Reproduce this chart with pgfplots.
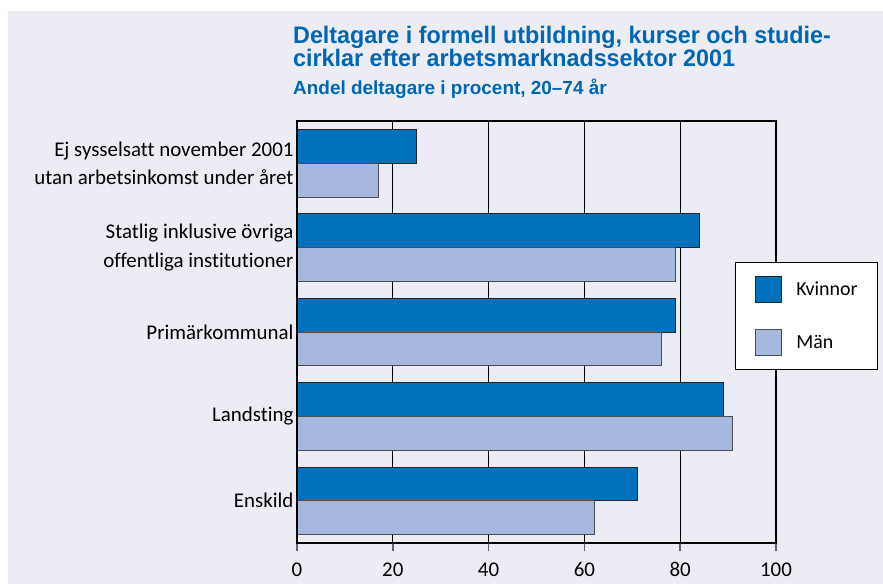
\documentclass[border=0pt]{standalone}
\usepackage{fontspec}
\setmainfont{Carlito}[Ligatures=CommonOff]
\newfontfamily\titlefont[FakeStretch=0.975]{Liberation Sans}
\newfontfamily\subtitlefont{Liberation Sans}
\usepackage{pgfplots}
\pgfplotsset{compat=1.18}

\definecolor{bgpanel}{HTML}{ECECF4}
\definecolor{titleblue}{HTML}{0066B3}
\definecolor{kvinnor}{HTML}{0071BA}
\definecolor{man}{HTML}{A6B8DE}

\pgfplotsset{squarelegend/.style={
    legend image code/.code={\draw[##1] (0bp,-13bp) rectangle (26bp,13bp);}}}

\begin{document}
\begin{tikzpicture}
% page and panel
\fill[white] (0,0) rectangle (883bp,584bp);
\fill[bgpanel] (8bp,0) rectangle (883bp,573bp);

\node[anchor=base west, inner sep=0, text=titleblue, font=\titlefont\bfseries\fontsize{24}{24}\selectfont]
  at (293bp,540bp) {Deltagare i formell utbildning, kurser och studie-};
\node[anchor=base west, inner sep=0, text=titleblue, font=\titlefont\bfseries\fontsize{24}{24}\selectfont]
  at (293bp,517bp) {cirklar efter arbetsmarknadssektor 2001};
\node[anchor=base west, inner sep=0, text=titleblue, font=\subtitlefont\bfseries\fontsize{19}{19}\selectfont]
  at (293bp,489bp) {Andel deltagare i procent, 20–74 år};

\begin{axis}[
    at={(297bp,41bp)}, anchor=south west,
    scale only axis, width=479bp, height=422bp,
    xmin=0, xmax=100, ymin=-0.5, ymax=4.5,
    y dir=reverse,
    bar width=0.4,
    xtick={0,20,40,60,80,100},
    ytick={0,1,2,3,4},
    yticklabels={{Ej sysselsatt november 2001\\utan arbetsinkomst under året},
                 {Statlig inklusive övriga\\offentliga institutioner},
                 Primärkommunal, Landsting, Enskild},
    yticklabel style={align=right, font=\fontsize{21}{28.5}\selectfont},
    xticklabel style={font=\fontsize{21}{21}\selectfont},
    /pgf/number format/assume math mode=true,
    xtick pos=bottom, xtick align=outside,
    major tick length=8bp,
    xtick style={draw=black!60, line width=1.5bp},
    ytick style={draw=none},
    xmajorgrids,
    grid style={black, line width=1.1bp},
    axis line style={black, line width=1.1bp},
    axis background/.style={fill=bgpanel},
    xticklabel shift=8bp, yticklabel shift=0bp,
    legend style={at={(rel axis cs:0.914,0.666)}, anchor=north west,
        fill=white, draw=black, line width=1.1bp,
        inner xsep=20bp, inner ysep=13bp,
        row sep=27bp, /tikz/column sep=14bp,
        nodes={inner sep=0pt, font=\fontsize{20}{20}\selectfont}},
    legend cell align=left,
    after end axis/.code={
        \draw[black, line width=2.2bp] (rel axis cs:0,1) -- (rel axis cs:0,0) -- (rel axis cs:1,0);
    },
]
\addplot[xbar, bar shift=-0.2, fill=kvinnor, draw=black!85, line width=0.9bp, squarelegend]
    coordinates {(25,0) (84,1) (79,2) (89,3) (71,4)};
\addlegendentry{Kvinnor}
\addplot[xbar, bar shift=0.2, fill=man, draw=black!70, line width=0.9bp, squarelegend]
    coordinates {(17,0) (79,1) (76,2) (91,3) (62,4)};
\addlegendentry{Män}
\end{axis}
\end{tikzpicture}
\end{document}
